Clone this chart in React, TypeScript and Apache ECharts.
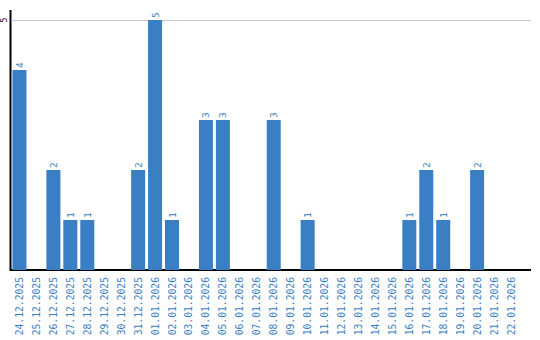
import React, { useEffect, useRef } from "react";
import * as echarts from "echarts";

const categories = [
  "24.12.2025", "25.12.2025", "26.12.2025", "27.12.2025", "28.12.2025", "29.12.2025",
  "30.12.2025", "31.12.2025", "01.01.2026", "02.01.2026", "03.01.2026", "04.01.2026",
  "05.01.2026", "06.01.2026", "07.01.2026", "08.01.2026", "09.01.2026", "10.01.2026",
  "11.01.2026", "12.01.2026", "13.01.2026", "14.01.2026", "15.01.2026", "16.01.2026",
  "17.01.2026", "18.01.2026", "19.01.2026", "20.01.2026", "21.01.2026", "22.01.2026",
];
const values = [4, 0, 2, 1, 1, 0, 0, 2, 5, 1, 0, 3, 3, 0, 0, 3, 0, 1, 0, 0, 0, 0, 0, 1, 2, 1, 0, 2, 0, 0];
const yTicks = [5];

const BLUE = "#3a7ec4";
const FONT = "DejaVu Sans Mono";

export default function App() {
  const ref = useRef<HTMLDivElement>(null);
  useEffect(() => {
    const chart = echarts.init(ref.current!, null, { renderer: "svg" });
    chart.setOption({
      animation: false,
      grid: { left: 9.5, right: 20.5, top: 20, bottom: 70, containLabel: false },
      xAxis: {
        type: "category",
        data: categories,
        axisLine: { lineStyle: { color: "#000", width: 2 } },
        axisTick: { show: false },
        axisLabel: {
          rotate: 90,
          interval: 0,
          color: BLUE,
          fontFamily: FONT,
          fontSize: 9.7,
          margin: 7,
        },
        splitLine: { show: false },
      },
      yAxis: {
        type: "value",
        min: 0,
        max: 5,
        interval: 5,
        axisLine: { show: false },
        axisTick: { show: false },
        splitLine: { show: true, lineStyle: { color: "#c8c8c8", width: 1 } },
        axisLabel: {
          show: true,
          margin: 3,
          rotate: 90,
          color: "#000",
          fontFamily: FONT,
          fontSize: 8,
          formatter: (v: number) => (yTicks.includes(v) ? String(v) : ""),
        },
      },
      series: [
        {
          type: "bar",
          data: values.map((v) => (v === 0 ? null : v)),
          barWidth: 14,
          itemStyle: { color: BLUE },
          label: {
            show: true,
            position: "top",
            rotate: 90,
            align: "left",
            verticalAlign: "middle",
            distance: 2,
            color: BLUE,
            fontFamily: FONT,
            fontSize: 9.5,
          },
        },
      ],
      graphic: [
        { type: "line", shape: { x1: 519, y1: 20.5, x2: 531, y2: 20.5 }, style: { stroke: "#c8c8c8", lineWidth: 1 } },
        { type: "line", shape: { x1: 518, y1: 270, x2: 531, y2: 270 }, style: { stroke: "#000", lineWidth: 2 } },
        { type: "line", shape: { x1: 10.5, y1: 10, x2: 10.5, y2: 271 }, style: { stroke: "#000", lineWidth: 2 } },
      ],
    });
    return () => chart.dispose();
  }, []);
  return <div ref={ref} style={{ width: 540, height: 340, position: "absolute", left: 0, top: 0 }} />;
}
